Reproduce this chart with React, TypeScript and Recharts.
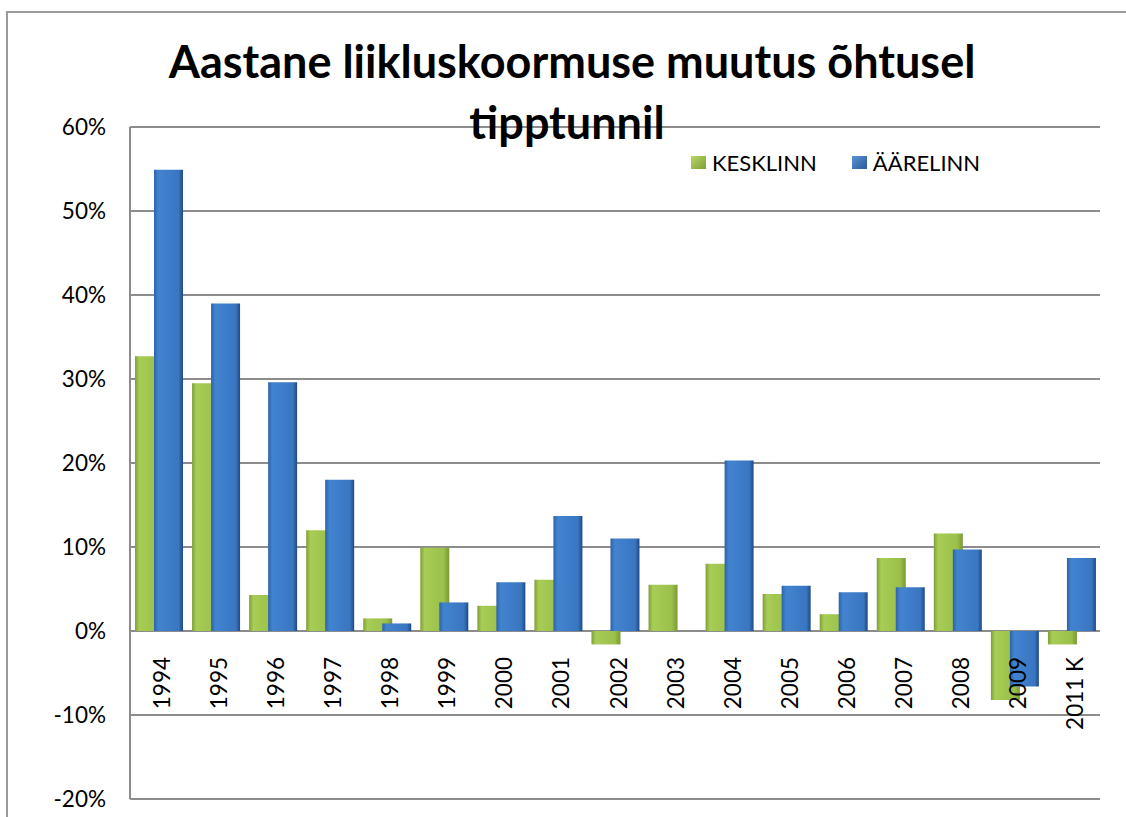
import { BarChart, Bar, XAxis, YAxis, CartesianGrid, Legend } from "recharts";

const years = ["1994", "1995", "1996", "1997", "1998", "1999", "2000", "2001", "2002", "2003", "2004", "2005", "2006", "2007", "2008", "2009", "2011 K"];
const kesklinn = [32.7, 29.5, 4.3, 12.0, 1.5, 9.9, 3.0, 6.1, -1.6, 5.5, 8.0, 4.4, 2.0, 8.7, 11.6, -8.2, -1.6];
const aarelinn = [54.9, 39.0, 29.6, 18.0, 0.9, 3.4, 5.8, 13.7, 11.0, null, 20.3, 5.4, 4.6, 5.2, 9.7, -6.6, 8.7];
const yTicks = [-20, -10, 0, 10, 20, 30, 40, 50, 60];

const data = years.map((name, i) => ({ name, kesklinn: kesklinn[i], aarelinn: aarelinn[i] }));

const W = 1126;
const H = 817;
const PLOT_TOP = 127;
const PLOT_BOTTOM = 799;
const Y_MIN = -20;
const Y_MAX = 60;
// y position of the 0% line, where the category labels hang
const ZERO_Y = PLOT_TOP + (PLOT_BOTTOM - PLOT_TOP) * (Y_MAX / (Y_MAX - Y_MIN));

const FONT = "Lato, 'Open Sans', sans-serif";

function YearTick(props: any) {
  const { x, payload } = props;
  const tx = x + 3;
  const ty = ZERO_Y + 26;
  return (
    <text
      x={tx}
      y={ty}
      transform={`rotate(-90, ${tx}, ${ty})`}
      textAnchor="end"
      dominantBaseline="central"
      fontSize={22.5}
      fontFamily={FONT}
      fill="#000"
    >
      {payload.value}
    </text>
  );
}

function LegendBox() {
  const items = [
    { label: "KESKLINN", from: "#b7d867", to: "#7f9f38" },
    { label: "ÄÄRELINN", from: "#5b93d6", to: "#2a5a99" },
  ];
  return (
    <div style={{ display: "flex", alignItems: "center", fontFamily: FONT, fontSize: 22, color: "#000" }}>
      {items.map((it, i) => (
        <div key={it.label} style={{ display: "flex", alignItems: "center", marginRight: i === 0 ? 35 : 0 }}>
          <span
            style={{
              display: "inline-block",
              width: 15,
              height: 13,
              marginRight: 6,
              background: `linear-gradient(135deg, ${it.from}, ${it.to})`,
            }}
          />
          <span>{it.label}</span>
        </div>
      ))}
    </div>
  );
}

export default function App() {
  return (
    <div style={{ position: "fixed", left: 0, top: 0, width: W, height: H, overflow: "hidden", background: "#fff" }}>
      <div
        style={{
          position: "absolute",
          left: 6,
          top: 11,
          width: 1300,
          height: 1000,
          border: "2px solid #9a9a9a",
        }}
      />
      <div style={{ position: "absolute", left: 0, top: 0 }}>
        <BarChart
          width={W}
          height={H}
          data={data}
          margin={{ top: PLOT_TOP, right: W - 1100, bottom: H - PLOT_BOTTOM - 1, left: 60 }}
          barSize={29}
          barGap={-10}
        >
          <defs>
            <linearGradient id="gGreen" x1="0" y1="0" x2="1" y2="0">
              <stop offset="0" stopColor="#7f9f38" />
              <stop offset="0.15" stopColor="#a8cd55" />
              <stop offset="0.8" stopColor="#9bc04b" />
              <stop offset="1" stopColor="#7a9934" />
            </linearGradient>
            <linearGradient id="gBlue" x1="0" y1="0" x2="1" y2="0">
              <stop offset="0" stopColor="#2d63a8" />
              <stop offset="0.15" stopColor="#4283d0" />
              <stop offset="0.85" stopColor="#3a76c1" />
              <stop offset="1" stopColor="#1f4a82" />
            </linearGradient>
          </defs>
          <CartesianGrid vertical={false} stroke="#8c8c8c" strokeWidth={2} />
          <XAxis
            dataKey="name"
            axisLine={false}
            tickLine={false}
            interval={0}
            tick={<YearTick />}
            height={1}
          />
          <YAxis
            domain={[Y_MIN, Y_MAX]}
            ticks={yTicks}
            width={70}
            axisLine={{ stroke: "#8c8c8c", strokeWidth: 2 }}
            tickLine={false}
            tickMargin={18}
            tickFormatter={(v: number) => `${v}%`}
            tick={{ fontSize: 22.5, fontFamily: FONT, fill: "#000" }}
          />
          <Legend
            content={<LegendBox />}
            layout="horizontal"
            verticalAlign="middle"
            align="center"
            wrapperStyle={{ position: "absolute", left: 691, top: 149, width: 340 }}
          />
          <Bar dataKey="kesklinn" name="KESKLINN" fill="url(#gGreen)" isAnimationActive={false} />
          <Bar dataKey="aarelinn" name="ÄÄRELINN" fill="url(#gBlue)" isAnimationActive={false} />
        </BarChart>
      </div>
      <svg width={W} height={H} style={{ position: "absolute", left: 0, top: 0, pointerEvents: "none" }}>
        <text x={572} y={78} textAnchor="middle" fontFamily={FONT} fontWeight={700} fontSize={45} fill="#000">
          Aastane liikluskoormuse muutus õhtusel
        </text>
        <text x={567} y={139} textAnchor="middle" fontFamily={FONT} fontWeight={700} fontSize={45} fill="#000">
          tipptunnil
        </text>
      </svg>
    </div>
  );
}
